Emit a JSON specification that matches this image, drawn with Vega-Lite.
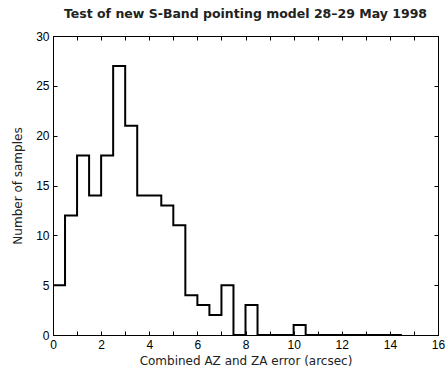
{
  "$schema": "https://vega.github.io/schema/vega-lite/v6.json",
  "width": 385,
  "height": 299,
  "autosize": {"type": "none"},
  "padding": {"left": 53, "top": 36, "right": 9, "bottom": 37},
  "background": "white",
  "config": {
    "font": "Liberation Sans",
    "view": {"stroke": "black", "strokeWidth": 1},
    "axis": {"grid": false, "domainColor": "black", "tickColor": "black", "labelColor": "black", "titleColor": "#222222", "titleFontWeight": "normal", "labelFont": "Liberation Sans", "titleFont": "Liberation Sans"}
  },
  "title": {"text": "Test of new S-Band pointing model 28–29 May 1998", "fontSize": 12.5, "fontWeight": "bold", "font": "DejaVu Sans", "color": "#222222", "anchor": "middle", "offset": 10},
  "data": {"values": [
    {"x": 0, "n": 5}, {"x": 0.5, "n": 12}, {"x": 1, "n": 18}, {"x": 1.5, "n": 14},
    {"x": 2, "n": 18}, {"x": 2.5, "n": 27}, {"x": 3, "n": 21}, {"x": 3.5, "n": 14},
    {"x": 4, "n": 14}, {"x": 4.5, "n": 13}, {"x": 5, "n": 11}, {"x": 5.5, "n": 4},
    {"x": 6, "n": 3}, {"x": 6.5, "n": 2}, {"x": 7, "n": 5}, {"x": 7.5, "n": 0},
    {"x": 8, "n": 3}, {"x": 8.5, "n": 0}, {"x": 9, "n": 0}, {"x": 9.5, "n": 0},
    {"x": 10, "n": 1}, {"x": 10.5, "n": 0}, {"x": 11, "n": 0}, {"x": 11.5, "n": 0},
    {"x": 12, "n": 0}, {"x": 12.5, "n": 0}, {"x": 13, "n": 0}, {"x": 13.5, "n": 0},
    {"x": 14, "n": 0}, {"x": 14.5, "n": 0}
  ]},
  "layer": [
    {
      "mark": {"type": "line", "interpolate": "step-after", "color": "black", "strokeWidth": 2},
      "encoding": {
        "x": {"field": "x", "type": "quantitative", "scale": {"domain": [0, 16], "nice": false, "zero": false},
          "axis": {"orient": "bottom", "title": "Combined AZ and ZA error (arcsec)", "values": [0,1,2,3,4,5,6,7,8,9,10,11,12,13,14,15,16], "labelExpr": "datum.value % 2 === 0 ? datum.label : ''", "tickSize": -4, "labelPadding": 8, "labelFontSize": 12, "titleFontSize": 12, "titleFont": "DejaVu Sans", "titlePadding": 5, "labelFlush": false, "labelOverlap": false}},
        "y": {"field": "n", "type": "quantitative", "scale": {"domain": [0, 30], "nice": false},
          "axis": {"orient": "left", "title": "Number of samples", "values": [0,5,10,15,20,25,30], "tickSize": -4, "labelPadding": 8, "labelFontSize": 12, "titleFontSize": 12, "titleFont": "DejaVu Sans", "titlePadding": 11, "labelFlush": false}}
      }
    },
    {
      "mark": {"type": "line", "opacity": 0},
      "encoding": {
        "x": {"field": "x", "type": "quantitative", "axis": {"orient": "top", "title": null, "labels": false, "values": [0,1,2,3,4,5,6,7,8,9,10,11,12,13,14,15,16], "tickSize": -4}},
        "y": {"field": "n", "type": "quantitative", "axis": {"orient": "right", "title": null, "labels": false, "values": [0,5,10,15,20,25,30], "tickSize": -4}}
      }
    }
  ],
  "resolve": {"axis": {"x": "independent", "y": "independent"}}
}
